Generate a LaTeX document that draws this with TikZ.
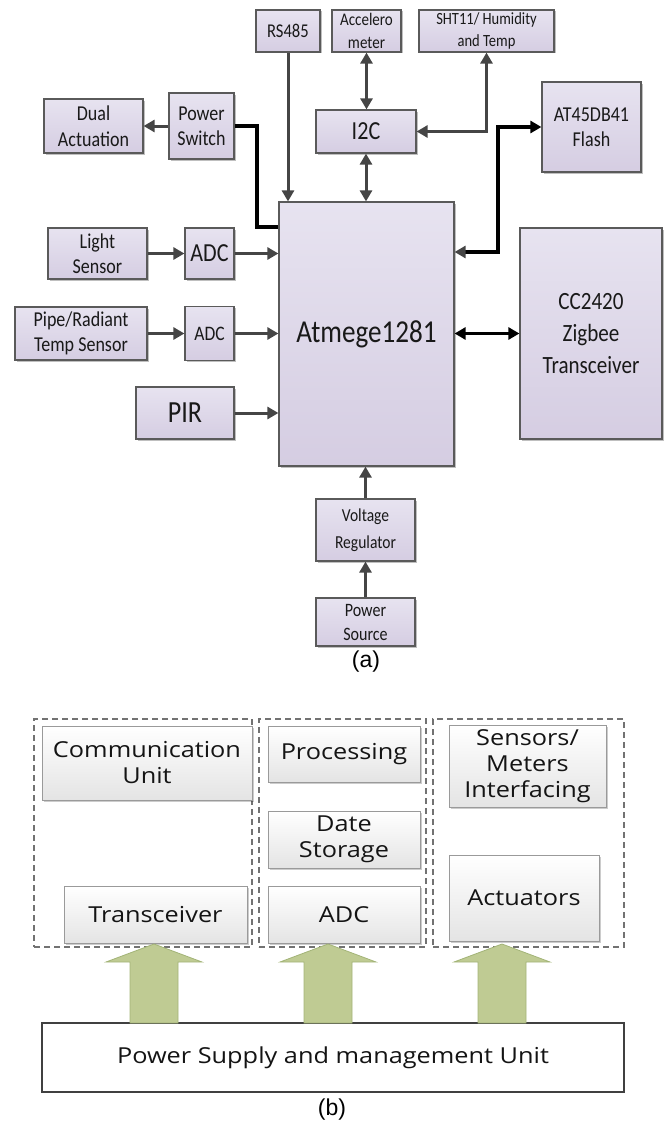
\documentclass[tikz,border=0pt]{standalone}
\usepackage{fontspec}
\setmainfont{Carlito}[FakeStretch=0.85]
\newfontfamily\osans{Open Sans}[FakeStretch=1.15]
\newfontfamily\arialf{Liberation Sans}
\usetikzlibrary{arrows.meta,shadows,calc}
\definecolor{lavA}{HTML}{E7E3F0}
\definecolor{lavB}{HTML}{D5CDE2}
\definecolor{bordA}{HTML}{5A5A5A}
\definecolor{ag}{HTML}{454545}
\definecolor{grB}{HTML}{E4E4E4}
\definecolor{gbord}{HTML}{9A9A9A}
\definecolor{grn}{HTML}{BFCB93}
\definecolor{grnb}{HTML}{A3B478}
\definecolor{dashc}{HTML}{727272}
\newcommand\fsz[2]{\fontsize{#1}{#2}\selectfont}
\tikzset{
  wh/.style 2 args={minimum width=#1pt, minimum height=#2pt},
  abox/.style={draw=bordA, line width=1.2pt, top color=lavA, bottom color=lavB,
    inner sep=1pt, align=center, text=black!90,
    drop shadow={shadow xshift=1.5pt, shadow yshift=-1.5pt, opacity=0.25, fill=black}},
  bbox/.style={draw=gbord, line width=0.9pt, top color=white, bottom color=grB,
    inner sep=1pt, align=center, text=black!92, font=\osans\fsz{22}{26},
    drop shadow={shadow xshift=1.5pt, shadow yshift=-1.5pt, opacity=0.2, fill=black}},
  grp/.style={draw=dashc, line width=1.1pt, dash pattern=on 6pt off 4pt},
  garr/.style={line width=3pt, draw=ag, -{Triangle[length=11pt,width=12pt]}},
  gdbl/.style={line width=3pt, draw=ag, {Triangle[length=11pt,width=12pt]}-{Triangle[length=11pt,width=12pt]}},
  kline/.style={line width=3.5pt, draw=black},
  kdbl/.style={line width=3.5pt, draw=black, {Triangle[length=11pt,width=12pt]}-{Triangle[length=11pt,width=12pt]}},
  greenarrow/.style={fill=grn, draw=grnb, line width=0.8pt, line join=miter},
  lab/.style={font=\arialf\fsz{23}{26}, inner sep=0pt}
}
\begin{document}
\begin{tikzpicture}[x=1pt,y=-1pt]
\useasboundingbox (0,0) rectangle (665,1124);
% ---------- (a) ----------
\node[abox, wh={64}{42}, font=\fsz{19.5}{22}] (rs) at (288,31) {RS485};
\node[abox, wh={69}{42}, font=\fsz{17.7}{22.5}] (acc) at (366.5,31) {Accelero\\meter};
\node[abox, wh={135}{42}, font=\fsz{17.1}{22}] (sht) at (486.5,31) {SHT11/ Humidity\\and Temp};
\node[abox, wh={100}{43}, font=\fsz{26}{28}] (i2c) at (366,131.5) {I2C};
\node[abox, wh={99}{90}, font=\fsz{21.2}{25}] (fl) at (591.5,127) {AT45DB41\\Flash};
\node[abox, wh={99}{54}, font=\fsz{21.2}{26.5}] (dual) at (93.5,126) {Dual\\Actuation};
\node[abox, wh={65}{66}, font=\fsz{21.2}{25}] (psw) at (201.5,126) {Power\\Switch};
\node[abox, wh={175}{264}, font=\fsz{31.9}{34}] (atm) at (366.5,334) {Atmege1281};
\node[abox, wh={142}{211}, font=\fsz{24.8}{32}] (cc) at (591,333.5) {CC2420\\Zigbee\\Transceiver};
\node[abox, wh={99}{51}, font=\fsz{21.2}{25}] (light) at (97.5,253.5) {Light\\Sensor};
\node[abox, wh={49}{51}, font=\fsz{26}{28}] (adcA) at (209.5,253.5) {ADC};
\node[abox, wh={132}{53}, font=\fsz{21.2}{25}] (pipe) at (81,333.5) {Pipe/Radiant\\Temp Sensor};
\node[abox, wh={49}{54}, font=\fsz{20.6}{23}] (adcB) at (209.5,333.5) {ADC};
\node[abox, wh={98}{52}, font=\fsz{30.7}{32}] (pir) at (185,413) {PIR};
\node[abox, wh={99}{62}, font=\fsz{18.3}{27}] (vr) at (365.5,530) {Voltage\\Regulator};
\node[abox, wh={99}{48}, font=\fsz{18.9}{24}] (ps) at (365.5,622) {Power\\Source};
\node[lab] (la) at (366,662) {(a)};
% connectors (a)
\draw[garr] (psw.west) -- (dual.east);
\coordinate (pk) at (257,227);
\draw[kline] (psw.east) -| (pk) -- (pk -| atm.west);
\draw[garr] (rs.south) -- (rs.south |- atm.north);
\draw[gdbl] (acc.south) -- (acc.south |- i2c.north);
\draw[gdbl] (i2c.south) -- (i2c.south |- atm.north);
\draw[gdbl] (i2c.east) -| (sht.south);
\coordinate (fk) at (498,252);
\draw[kline, {Triangle[length=11pt,width=12pt,color=ag]}-{Triangle[length=11pt,width=12pt]}] (fk -| atm.east) -- (fk) |- (fl.west);
\draw[kdbl] (atm.east |- cc.west) -- (cc.west);
\draw[garr] (light.east) -- (adcA.west);
\draw[garr] (adcA.east) -- (adcA.east -| atm.west);
\draw[garr] (pipe.east) -- (adcB.west);
\draw[garr] (adcB.east) -- (adcB.east -| atm.west);
\draw[garr] (pir.east) -- (pir.east -| atm.west);
\draw[garr] (vr.north) -- (vr.north |- atm.south);
\draw[garr] (ps.north) -- (vr.south);
% ---------- (b) ----------
\node[grp, wh={218}{228}] (g1) at (143,833) {};
\node[grp, wh={167}{228}] (g2) at (342.5,833) {};
\node[grp, wh={191}{228}] (g3) at (528.5,833) {};
\node[bbox, wh={210}{74}] (comm) at (147,763) {Communication\\Unit};
\node[bbox, wh={183}{57}] (trx) at (155.5,914.5) {Transceiver};
\node[bbox, wh={152}{56}] (proc) at (344,754) {Processing};
\node[bbox, wh={152}{57}] (stor) at (344,839.5) {Date\\Storage};
\node[bbox, wh={152}{57}] (adcC) at (344,914.5) {ADC};
\node[bbox, wh={157}{82}] (sens) at (527.5,766) {Sensors/\\Meters\\Interfacing};
\node[bbox, wh={150}{86}] (act) at (524,898) {Actuators};
\node[draw=black!75, line width=1.3pt, fill=white, wh={582}{69}, font=\osans\fsz{22}{26}, text=black!92] (pw) at (333,1057.5) {Power Supply and management Unit};
\foreach \c in {154,328,502}{
  \draw[greenarrow] (\c,944) -- (\c+48,962) -- (\c+24,962) -- (\c+24,1023) -- (\c-24,1023) -- (\c-24,962) -- (\c-48,962) -- cycle;
}
\node[lab] (lb) at (332,1110) {(b)};
\end{tikzpicture}
\end{document}
